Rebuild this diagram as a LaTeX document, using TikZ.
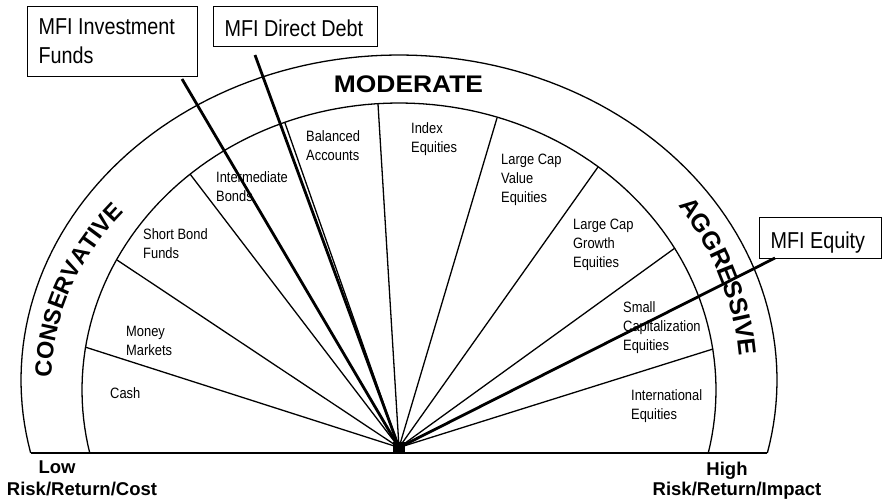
\documentclass[tikz,border=0pt]{standalone}
\usepackage{fontspec}
\setmainfont{Liberation Sans}
\newfontfamily\narfont[FakeStretch=0.86]{Liberation Sans}
\newfontfamily\widefont[FakeStretch=1.1]{Liberation Sans}
\usetikzlibrary{decorations.text}
\begin{document}
\begin{tikzpicture}[x=1pt,y=-1pt,
  thinln/.style={line width=1.3pt},
  thickln/.style={line width=2.8pt},
  lbl/.style={font=\narfont\fontsize{15}{19}\selectfont, align=flush left, anchor=north west, inner sep=0pt},
  mfibox/.style={draw, line width=1.2pt, font=\narfont\fontsize{23}{29}\selectfont, anchor=north west, inner xsep=11pt, inner ysep=0pt},
  endlbl/.style={font=\bfseries\fontsize{18.5}{20}\selectfont, inner sep=0pt, anchor=base}
]
\useasboundingbox (0,0) rectangle (883,501);

% outer and inner arcs, baseline
\draw[thinln] plot[domain=-192.98:12.98, samples=120] ({399+378*cos(\x)}, {380+325*sin(\x)});
\draw[thinln] plot[domain=-192.68:12.68, samples=120] ({399+317*cos(\x)}, {390+287*sin(\x)});
\coordinate (bl) at (31,453);
\coordinate (br) at (767,453);
\draw[thinln] (bl) -- (br);

% hub
\node[fill=black, minimum width=12pt, minimum height=11pt, inner sep=0pt] (hub) at (399,447.5) {};

% spoke ends on inner arc
\coordinate (e1) at (85,347);
\coordinate (e2) at (117,260);
\coordinate (e3) at (190,174);
\coordinate (e4) at (285,123);
\coordinate (e5) at (378,104);
\coordinate (e6) at (497,118);
\coordinate (e7) at (598,167);
\coordinate (e8) at (675,248);
\coordinate (e9) at (713,349);
\foreach \e in {e1,e2,e3,e4,e5,e6,e7,e8,e9}
  \draw[thinln] (hub.center) -- (\e);

% sector labels
\node[lbl] (cash) at (110,387) {Cash};
\node[lbl] (money) at (126,326) {Money\\Markets};
\node[lbl] (short) at (143,228) {Short Bond\\Funds};
\node[lbl] (inter) at (216,171) {Intermediate\\Bonds};
\node[lbl] (bal) at (306,130) {Balanced\\Accounts};
\node[lbl] (index) at (411,122) {Index\\Equities};
\node[lbl] (lcv) at (501,154) {Large Cap\\Value\\Equities};
\node[lbl] (lcg) at (573,219) {Large Cap\\Growth\\Equities};
\node[lbl] (small) at (623,301) {Small\\Capitalization\\Equities};
\node[lbl] (intl) at (631,389) {International\\Equities};

% band titles
\node[font=\widefont\bfseries\fontsize{24}{26}\selectfont, inner sep=0pt, anchor=base] (moderate) at (408.5,92) {MODERATE};
\path[decorate, decoration={text along path, text align=center,
  text={|\bfseries\fontsize{23.5}{24}\selectfont|CONSERVATIVE}}]
  plot[domain=-190:-133, samples=80] ({399+347.5*cos(\x)}, {380+275*sin(\x)});
\path[decorate, decoration={text along path, text align=center,
  text={|\bfseries\fontsize{25}{26}\selectfont|AGGRESSIVE}}]
  plot[domain=-45:6, samples=80] ({399+341*cos(\x)}, {380+304*sin(\x)});

% end labels
\node[endlbl] (low) at (57,473) {Low};
\node[endlbl] (lowrisk) at (82,495) {Risk/Return/Cost};
\node[endlbl] (high) at (727,475) {High};
\node[endlbl] (highrisk) at (737,495) {Risk/Return/Impact};

% MFI boxes
\node[mfibox, align=flush left, text width=148pt, minimum height=70pt] (inv) at (27,6) {MFI Investment\\Funds};
\node[mfibox, minimum height=40pt, text height=20pt, text depth=0pt] (debt) at (213,6) {\makebox[142pt][l]{MFI Direct Debt}};
\node[mfibox, minimum height=41pt, text height=20pt, text depth=0pt] (equity) at (759,217) {\makebox[100pt][l]{MFI Equity}};

% MFI lines
\coordinate (invend) at (182,79);
\coordinate (debtend) at (255,55);
\coordinate (eqend) at (775,258);
\draw[thickln] (invend) -- (hub.center);
\draw[thickln] (debtend) -- (hub.center);
\draw[thickln] (eqend) -- (hub.center);
\end{tikzpicture}
\end{document}
